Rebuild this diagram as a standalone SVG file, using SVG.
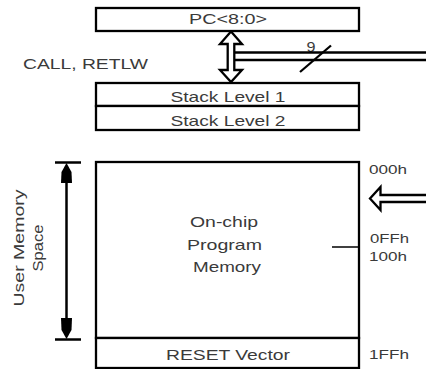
<svg xmlns="http://www.w3.org/2000/svg" width="426" height="369" viewBox="0 0 426 369">
<style>
.box{fill:#fff;stroke:#000;stroke-width:2.3}
.t{font-family:"Liberation Sans",Arial,sans-serif;font-size:15px;fill:#3a3a3a;text-anchor:middle}
.a{font-family:"Liberation Sans",Arial,sans-serif;font-size:13.5px;fill:#3a3a3a}
.ln{stroke:#000;stroke-width:2.5;fill:none}
.hol{fill:#fff;stroke:#000;stroke-width:2.3;stroke-linejoin:miter}
</style>
<rect width="426" height="369" fill="#fff"/>
<g id="pc">
<rect class="box" x="96" y="8" width="263" height="23"/>
<text class="t" x="228" y="24" textLength="78" lengthAdjust="spacingAndGlyphs">PC&lt;8:0&gt;</text>
</g>
<g id="stack1">
<rect class="box" x="96" y="83" width="263" height="23"/>
<text class="t" x="228" y="101.5" textLength="115" lengthAdjust="spacingAndGlyphs">Stack Level 1</text>
</g>
<g id="stack2">
<rect class="box" x="96" y="106" width="263" height="24"/>
<text class="t" x="228" y="126" textLength="115" lengthAdjust="spacingAndGlyphs">Stack Level 2</text>
</g>
<g id="memory">
<rect class="box" x="96" y="162" width="263" height="176"/>
<text class="t" x="224" y="227" textLength="68" lengthAdjust="spacingAndGlyphs">On-chip</text>
<text class="t" x="224.5" y="250" textLength="75" lengthAdjust="spacingAndGlyphs">Program</text>
<text class="t" x="227" y="272" textLength="68" lengthAdjust="spacingAndGlyphs">Memory</text>
<line x1="332" y1="247" x2="359" y2="247" stroke="#000" stroke-width="1.5"/>
</g>
<g id="reset">
<rect class="box" x="96" y="338" width="263" height="30"/>
<text class="t" x="228" y="359.5" textLength="124" lengthAdjust="spacingAndGlyphs">RESET Vector</text>
</g>
<g id="labels">
<text class="t" x="85.5" y="68.5" textLength="125" lengthAdjust="spacingAndGlyphs">CALL, RETLW</text>
<text class="a" x="306.5" y="51.5" textLength="9" lengthAdjust="spacingAndGlyphs" style="font-size:15px">9</text>
<text class="a" x="369" y="173.5" textLength="38" lengthAdjust="spacingAndGlyphs">000h</text>
<text class="a" x="370" y="243" textLength="39" lengthAdjust="spacingAndGlyphs">0FFh</text>
<text class="a" x="369" y="261" textLength="38" lengthAdjust="spacingAndGlyphs">100h</text>
<text class="a" x="369" y="358.5" textLength="40" lengthAdjust="spacingAndGlyphs">1FFh</text>
<text class="t" transform="translate(24,248) rotate(-90)" x="0" y="0" textLength="117" lengthAdjust="spacingAndGlyphs">User Memory</text>
<text class="t" transform="translate(43,248) rotate(-90)" x="0" y="0" textLength="47" lengthAdjust="spacingAndGlyphs">Space</text>
</g>
<g id="connectors">
<line x1="233" y1="52.5" x2="430" y2="52.5" class="ln"/>
<line x1="233" y1="60" x2="430" y2="60" class="ln"/>
<polygon class="hol" points="231,31.5 242,44 234.3,44 234.3,70 242,70 231,82 220,70 227.7,70 227.7,44 220,44"/>
<line x1="300" y1="72" x2="331" y2="45.5" stroke="#000" stroke-width="2.3"/>
<polygon class="hol" points="430,195 380.5,195 380.5,187 370,198.5 380.5,210 380.5,202 430,202"/>
<line x1="55" y1="162.5" x2="81" y2="162.5" class="ln"/>
<line x1="55" y1="339.5" x2="81" y2="339.5" class="ln"/>
<line x1="66.5" y1="170" x2="66.5" y2="332" class="ln"/>
<polygon points="66.5,163 71.5,172 72,183 61,183 61.5,172" fill="#000"/>
<polygon points="66.5,339 71.5,330 72,318 61,318 61.5,330" fill="#000"/>
</g>
</svg>
